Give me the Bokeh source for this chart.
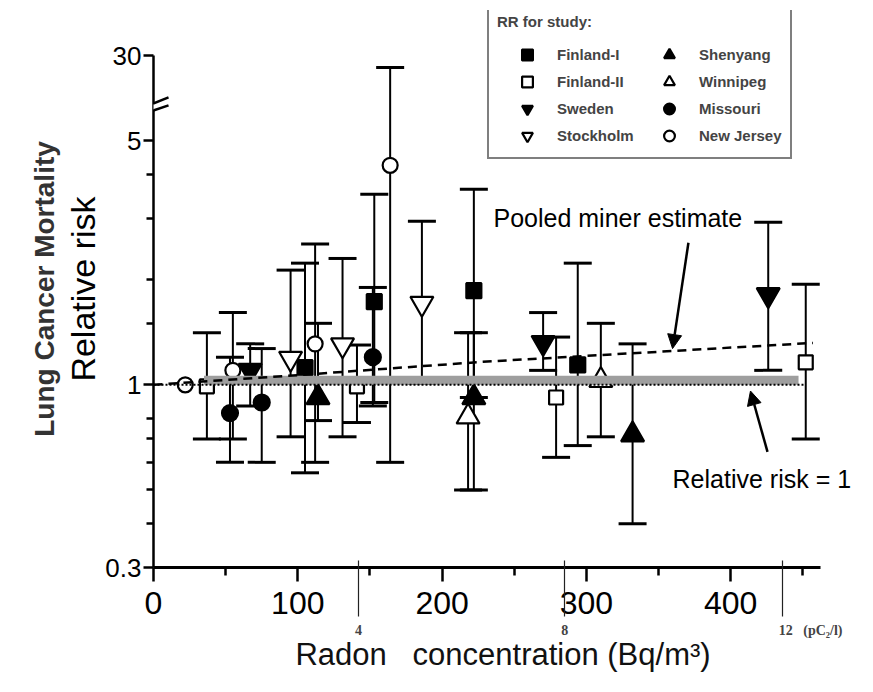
from bokeh.plotting import figure
from bokeh.models import (ColumnDataSource, Whisker, TeeHead, Range1d, FixedTicker, LogAxis,
                          LinearAxis, Legend, LegendItem, Label, Arrow, NormalHead)
from bokeh.embed import file_html
from bokeh.resources import INLINE

# ---------------- data ----------------
# Radon concentration (Bq/m3), relative risk, lower / upper confidence limit
FIN1_X = [105, 153, 222, 294]
FIN1_RR = [1.12, 1.73, 1.86, 1.14]
FIN1_LO = [0.56, 0.89, 0.92, 0.67]
FIN1_HI = [2.23, 3.51, 3.63, 2.23]

FIN2_X = [37, 141, 279, 452]
FIN2_RR = [0.99, 0.99, 0.92, 1.16]
FIN2_LO = [0.70, 0.78, 0.62, 0.70]
FIN2_HI = [1.41, 1.30, 1.37, 1.94]

SWE_X = [67, 270, 426]
SWE_RR = [1.10, 1.32, 1.81]
SWE_LO = [0.87, 1.10, 1.10]
SWE_HI = [1.31, 1.61, 2.92]

STO_X = [95, 131, 186]
STO_RR = [1.19, 1.30, 1.71]
STO_LO = [0.71, 0.71, 1.01]
STO_HI = [2.13, 2.30, 2.94]

SHE_X = [114, 222, 332]
SHE_RR = [0.92, 0.92, 0.72]
SHE_LO = [0.79, 0.50, 0.40]
SHE_HI = [1.50, 1.41, 1.31]

WIN_X = [218, 310]
WIN_RR = [0.81, 1.03]
WIN_LO = [0.50, 0.71]
WIN_HI = [1.41, 1.50]

MIS_X = [53, 75, 152]
MIS_RR = [0.83, 0.89, 1.20]
MIS_LO = [0.60, 0.60, 0.87]
MIS_HI = [1.20, 1.27, 1.90]

NJ_X = [22, 55, 112, 164]
NJ_RR = [1.00, 1.10, 1.31, 4.25]
NJ_LO = [1.00, 0.70, 0.60, 0.60]
NJ_HI = [1.00, 1.61, 2.53, 8.10]   # last upper limit drawn above the axis break

POOLED_X = [0, 83, 227, 457]          # pooled miner estimate (dashed)
POOLED_RR = [1.0, 1.054, 1.163, 1.318]
GRAY_X = [35, 447]                     # thick grey line
GRAY_RR = [1.03, 1.03]
RR1_X = [0, 451]                       # relative risk = 1 (dotted)
RR1_RR = [1.0, 1.0]

X_TICKS = [0, 100, 200, 300, 400]
X_MINOR = [50, 150, 250, 350, 450]
Y_TICKS = [0.3, 1, 5, 8.75]
Y_LABELS = ["0.3", "1", "5", "30"]
Y_MINOR = [0.4, 0.5, 0.6, 0.7, 0.8, 1.5, 2, 3, 4]
PCI_POS = [142, 285, 436]
PCI_LABELS = ["4", "8", "\u00a0" * 16 + "12\u00a0\u00a0\u00a0(pC\u2082/l)"]

X_AXIS_END = 462      # the drawn x axis stops here
Y_AXIS_TOP = 8.75     # the drawn y axis stops at the "30" tick

FONT = "Liberation Sans"
SERIF = "Liberation Serif"

p = figure(width=857, height=676, x_range=Range1d(0, 484.4), y_range=Range1d(0.3, 11.79),
           y_axis_type="log", output_backend="svg", toolbar_location=None,
           min_border_left=153, min_border_right=5, min_border_top=10, min_border_bottom=109)
p.grid.visible = False
p.outline_line_color = None
p.background_fill_color = "white"

# ---- x axis (Bq/m3)
xa = p.xaxis[0]
xa.bounds = (0, X_AXIS_END)
xa.ticker = FixedTicker(ticks=X_TICKS, minor_ticks=X_MINOR)
xa.axis_line_width = 3
xa.major_tick_line_width = 2.5
xa.minor_tick_line_width = 2.5
xa.major_tick_in = 0
xa.major_tick_out = 14
xa.minor_tick_in = 0
xa.minor_tick_out = 8
xa.major_label_text_font = FONT
xa.major_label_text_font_size = "32px"
xa.major_label_text_color = "black"
xa.major_label_standoff = 10

# ---- secondary scale (pCi/l)
ax2 = LinearAxis(ticker=FixedTicker(ticks=PCI_POS),
                 major_label_overrides={v: t for v, t in zip(PCI_POS, PCI_LABELS)})
ax2.axis_line_color = None
ax2.minor_tick_line_color = None
ax2.major_tick_in = 56
ax2.major_tick_out = 0
ax2.major_tick_line_width = 1.2
ax2.major_tick_line_color = "#222222"
ax2.major_label_standoff = 6
ax2.major_label_text_font = SERIF
ax2.major_label_text_font_style = "bold"
ax2.major_label_text_font_size = "14px"
ax2.axis_label = "Radon\u00a0\u00a0\u00a0concentration (Bq/m³)"
ax2.axis_label_text_font = FONT
ax2.axis_label_text_font_style = "normal"
ax2.axis_label_text_font_size = "31px"
ax2.axis_label_text_color = "#111111"
ax2.axis_label_standoff = -4
p.add_layout(ax2, "below")

# ---- y axis
ya = p.yaxis[0]
ya.bounds = (0.3, Y_AXIS_TOP)
ya.ticker = FixedTicker(ticks=Y_TICKS, minor_ticks=Y_MINOR)
ya.major_label_overrides = {v: t for v, t in zip(Y_TICKS, Y_LABELS)}
ya.axis_line_width = 2.5
ya.major_tick_line_width = 2.5
ya.minor_tick_line_width = 2.5
ya.major_tick_in = 0
ya.major_tick_out = 10
ya.minor_tick_in = 0
ya.minor_tick_out = 7
ya.major_label_text_font = FONT
ya.major_label_text_font_size = "26px"
ya.major_label_text_color = "black"
ya.major_label_standoff = 2
ya.axis_label = "Relative risk"
ya.axis_label_text_font = FONT
ya.axis_label_text_font_style = "normal"
ya.axis_label_text_font_size = "34px"
ya.axis_label_text_color = "black"
ya.axis_label_standoff = 0

ya2 = LogAxis(ticker=FixedTicker(ticks=[]))
ya2.axis_line_color = None
ya2.major_tick_line_color = None
ya2.minor_tick_line_color = None
ya2.major_tick_out = 0
ya2.minor_tick_out = 0
ya2.axis_label = "Lung Cancer Mortality"
ya2.axis_label_text_font = FONT
ya2.axis_label_text_font_style = "bold"
ya2.axis_label_text_font_size = "28px"
ya2.axis_label_text_color = "#333333"
ya2.axis_label_standoff = 2
p.add_layout(ya2, "left")

# ---- studies
studies = [
    ("Finland-I", FIN1_X, FIN1_RR, FIN1_LO, FIN1_HI, "square", "black", 15),
    ("Finland-II", FIN2_X, FIN2_RR, FIN2_LO, FIN2_HI, "square", "white", 14),
    ("Sweden", SWE_X, SWE_RR, SWE_LO, SWE_HI, "inverted_triangle", "black", 23),
    ("Stockholm", STO_X, STO_RR, STO_LO, STO_HI, "inverted_triangle", "white", 23),
    ("Shenyang", SHE_X, SHE_RR, SHE_LO, SHE_HI, "triangle", "black", 23),
    ("Winnipeg", WIN_X, WIN_RR, WIN_LO, WIN_HI, "triangle", "white", 23),
    ("Missouri", MIS_X, MIS_RR, MIS_LO, MIS_HI, "circle", "black", 16),
    ("New Jersey", NJ_X, NJ_RR, NJ_LO, NJ_HI, "circle", "white", 15),
]

for name, xs, rr, lo, hi, marker, fill, size in studies:
    keep = [i for i in range(len(xs)) if hi[i] > lo[i]]
    wsrc = ColumnDataSource(dict(x=[xs[i] for i in keep], lo=[lo[i] for i in keep],
                                 hi=[hi[i] for i in keep]))
    p.add_layout(Whisker(source=wsrc, base="x", lower="lo", upper="hi", dimension="height",
                         line_color="black", line_width=2,
                         upper_head=TeeHead(size=28, line_width=3, line_color="black"),
                         lower_head=TeeHead(size=28, line_width=3, line_color="black")))

renderers = {}
for name, xs, rr, lo, hi, marker, fill, size in studies:
    src = ColumnDataSource(dict(x=xs, rr=rr))
    renderers[name] = p.scatter("x", "rr", source=src, marker=marker, size=size,
                                fill_color=fill, line_color="black", line_width=2.2)

# reference lines
p.line(GRAY_X, GRAY_RR, line_width=9, line_color="#9e9e9e")
p.line(POOLED_X, POOLED_RR, line_width=2.5, line_color="black", line_dash="9 6")
p.line(RR1_X, RR1_RR, line_width=2, line_color="black", line_dash="2 2")

# ---- annotations
p.add_layout(Label(x=235.6, y=3.0, text="Pooled miner estimate", text_font=FONT,
                   text_font_size="25px", text_baseline="middle", text_align="left",
                   text_color="black"))
p.add_layout(Label(x=359.7, y=0.539, text="Relative risk = 1", text_font=FONT,
                   text_font_size="25px", text_baseline="middle", text_align="left",
                   text_color="black"))
p.add_layout(Arrow(end=NormalHead(size=14, fill_color="black", line_color="black"),
                   x_start=370.7, y_start=2.55, x_end=359.7, y_end=1.27,
                   line_width=2.5, line_color="black"))
p.add_layout(Arrow(end=NormalHead(size=14, fill_color="black", line_color="black"),
                   x_start=425.5, y_start=0.643, x_end=413.7, y_end=0.96,
                   line_width=2.5, line_color="black"))

# axis break marks
p.add_layout(Arrow(end=None, x_start=-12, y_start=5.99, x_end=10.4, y_end=6.48,
                   line_width=5, line_color="white"))
p.add_layout(Arrow(end=None, x_start=-12, y_start=6.11, x_end=10.4, y_end=6.65,
                   line_width=2.5, line_color="black"))
p.add_layout(Arrow(end=None, x_start=-12, y_start=5.87, x_end=10.4, y_end=6.31,
                   line_width=2.5, line_color="black"))

# ---- legend
order = ["Finland-I", "Finland-II", "Sweden", "Stockholm",
         "Shenyang", "Winnipeg", "Missouri", "New Jersey"]
legend = Legend(items=[LegendItem(label=n, renderers=[renderers[n]]) for n in order],
                location=(334, 408), orientation="vertical", nrows=4,
                title="RR for study:", title_text_font=FONT, title_text_font_size="15px",
                title_text_font_style="bold", title_standoff=11,
                label_text_font=FONT, label_text_font_size="15px", label_text_font_style="bold",
                glyph_width=60, glyph_height=27, label_standoff=0, label_width=82,
                label_height=20, spacing=0, padding=8, margin=0,
                border_line_color="black", border_line_width=2.5,
                background_fill_color="white", background_fill_alpha=1.0)
p.add_layout(legend)

open("out.html", "w").write(file_html(p, INLINE))
